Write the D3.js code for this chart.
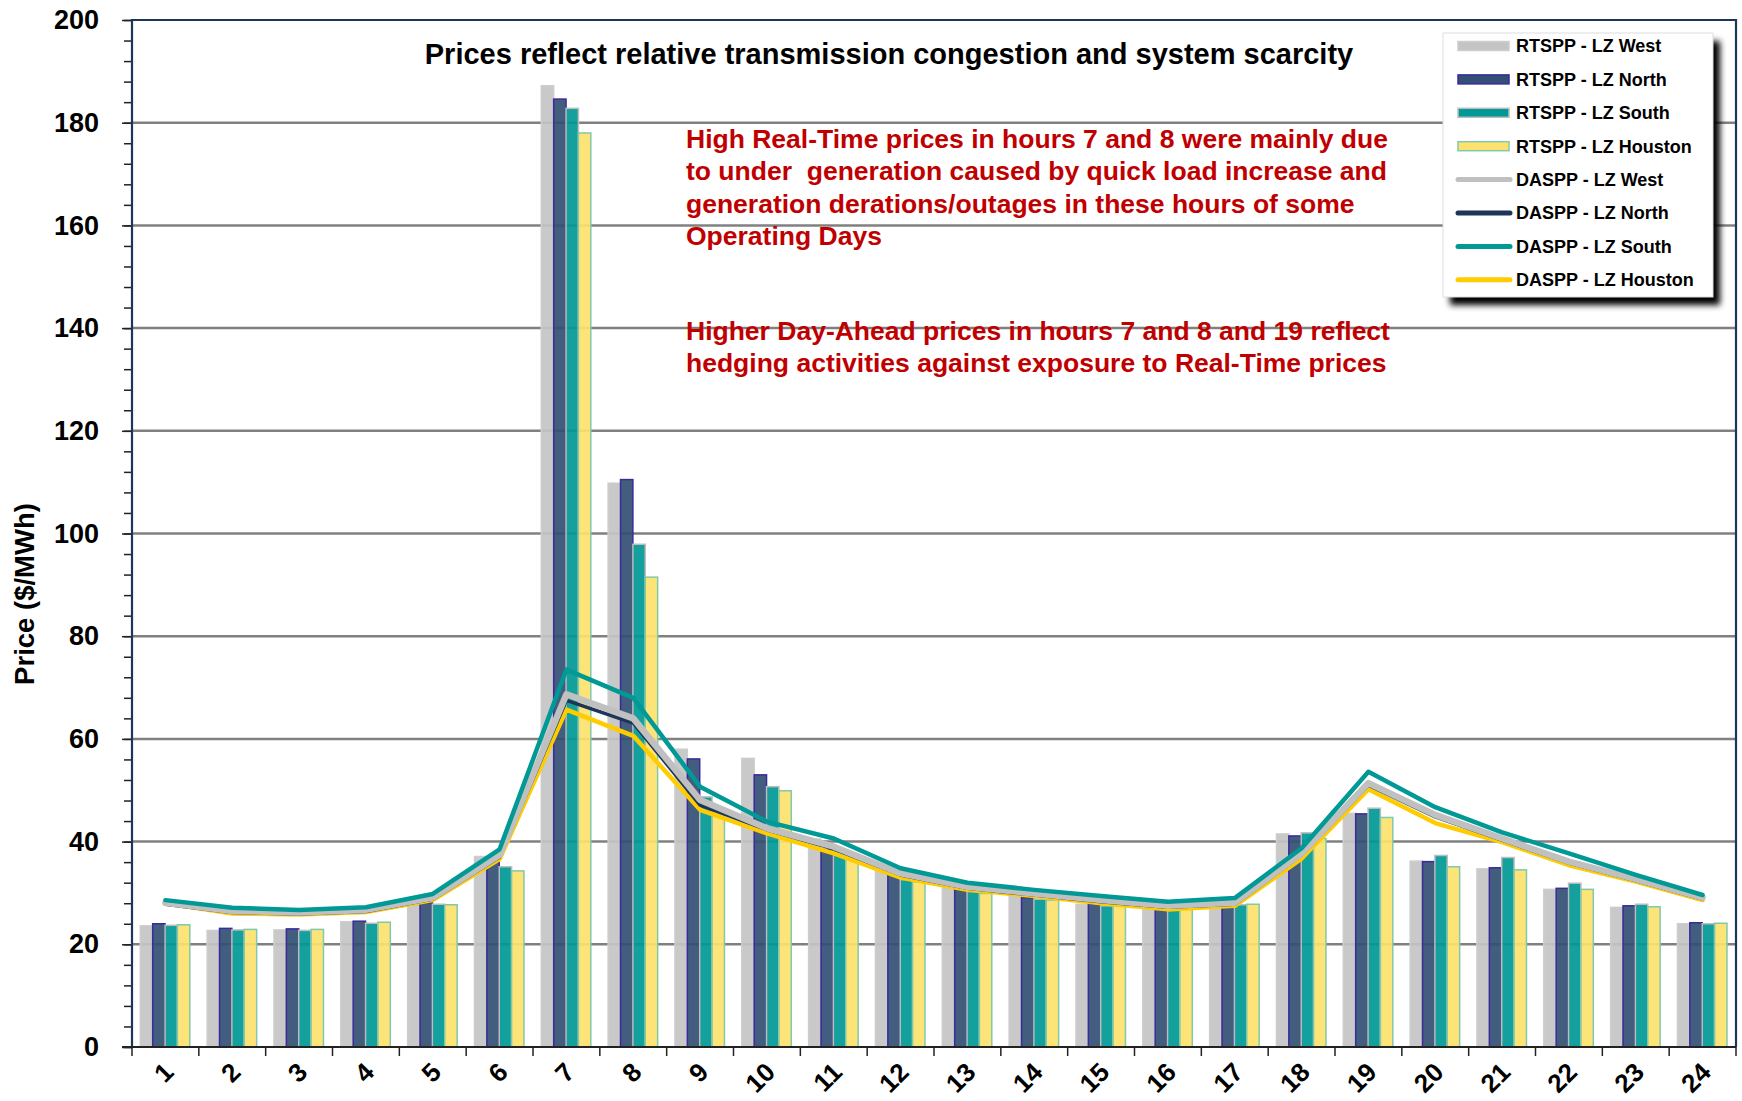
<!DOCTYPE html>
<html>
<head>
<meta charset="UTF-8">
<title>RTSPP vs DASPP by hour</title>
<style>
  body { margin: 0; background: #fff; }
  svg { display: block; font-family: Arial, "Liberation Sans", sans-serif; }
  .ylab, .xlab { font-weight: bold; font-size: 27px; fill: #000; }
  .xlab { font-size: 26px; }
  .note { font-weight: bold; font-size: 26.5px; fill: #c00000; }
  .legtxt { font-weight: bold; font-size: 18px; fill: #000; }
</style>
</head>
<body>
<svg></svg>
<script src="https://d3js.org/d3.v7.min.js"></script>
<script>

let width = 1742, height = 1101;

// hours of the operating day
const hours = d3.range(1, 25).map(String);

// Real-Time settlement point prices ($/MWh), bars
const rtWest    = [23.6, 22.7, 22.8, 24.4, 27.8, 37.1, 187.2, 109.8, 58.0, 56.2, 40.5, 34.5, 31.2, 31.2, 27.8, 27.2, 27.2, 41.5, 45.5, 36.2, 34.7, 30.7, 27.2, 24.0];
const rtNorth   = [24.0, 23.1, 23.0, 24.5, 28.1, 36.0, 184.6, 110.5, 56.1, 53.0, 38.5, 33.5, 30.7, 29.1, 27.8, 26.9, 27.2, 41.1, 45.4, 36.1, 34.9, 30.9, 27.5, 24.2];
const rtSouth   = [23.7, 22.8, 22.7, 24.1, 27.8, 35.1, 182.8, 97.9, 48.7, 50.7, 38.5, 32.6, 30.3, 28.8, 27.5, 26.8, 27.7, 41.7, 46.5, 37.3, 36.9, 31.9, 27.8, 24.0];
const rtHouston = [23.8, 22.9, 22.9, 24.3, 27.7, 34.3, 178.0, 91.5, 46.0, 49.9, 37.0, 32.2, 29.9, 28.6, 27.5, 27.0, 27.8, 40.6, 44.7, 35.1, 34.5, 30.7, 27.3, 24.1];

// Day-Ahead settlement point prices ($/MWh), lines
const daWest    = [28.1, 26.5, 26.2, 26.7, 29.1, 37.4, 68.7, 64.0, 48.1, 42.6, 39.0, 33.8, 31.2, 29.9, 28.6, 27.5, 28.1, 37.7, 51.4, 45.2, 40.6, 36.1, 32.7, 29.1];
const daNorth   = [27.8, 26.2, 25.9, 26.4, 28.8, 37.0, 67.5, 63.1, 47.1, 42.3, 38.6, 33.5, 30.9, 29.6, 28.3, 27.2, 27.8, 37.4, 51.0, 44.8, 40.3, 35.8, 32.4, 28.8];
const daSouth   = [28.6, 27.1, 26.7, 27.2, 29.8, 38.5, 73.5, 68.0, 50.7, 43.9, 40.6, 34.8, 32.0, 30.6, 29.4, 28.3, 29.0, 38.7, 53.6, 46.7, 41.8, 37.7, 33.5, 29.6];
const daHouston = [28.0, 26.0, 25.8, 26.3, 28.6, 36.6, 65.7, 60.6, 46.2, 41.6, 37.7, 33.0, 30.6, 29.4, 28.0, 26.8, 27.5, 36.7, 50.2, 43.6, 39.9, 35.4, 32.2, 28.6];

const yTicks = d3.range(0, 201, 20);

const title = "Prices reflect relative transmission congestion and system scarcity";
const note1 = ["High Real-Time prices in hours 7 and 8 were mainly due",
               "to under  generation caused by quick load increase and",
               "generation derations/outages in these hours of some",
               "Operating Days"];
const note2 = ["Higher Day-Ahead prices in hours 7 and 8 and 19 reflect",
               "hedging activities against exposure to Real-Time prices"];

// series styling
const barSeries = [
  {name: "RTSPP - LZ West",    values: rtWest,    fill: "#c4c4c4", stroke: "#cdcdcd"},
  {name: "RTSPP - LZ North",   values: rtNorth,   fill: "#334f73", stroke: "#3b2a9c"},
  {name: "RTSPP - LZ South",   values: rtSouth,   fill: "#009995", stroke: "#bdbdbd"},
  {name: "RTSPP - LZ Houston", values: rtHouston, fill: "#fde26e", stroke: "#80c9aa"}
];
const lineSeries = [
  {name: "DASPP - LZ West",    values: daWest,    color: "#c0c0c0", w: 6.5},
  {name: "DASPP - LZ North",   values: daNorth,   color: "#1c3558", w: 3.5},
  {name: "DASPP - LZ South",   values: daSouth,   color: "#009995", w: 4.5},
  {name: "DASPP - LZ Houston", values: daHouston, color: "#ffcc00", w: 4.5}
];

let svg = d3.select("svg")
  .attr("width", width)
  .attr("height", height);

let plotL = 132, plotR = 1736, plotT = 20, plotB = 1047;

let x = d3.scaleBand().domain(hours).range([plotL, plotR]).padding(0);
let xs = d3.scaleBand().domain(barSeries.map(d => d.name)).range([8.3, 57.8]).padding(0);
let y = d3.scaleLinear().domain([0, 200]).range([plotB, plotT]);

// gridlines
svg.append("g")
  .selectAll("line")
  .data(yTicks.filter(d => d > 0 && d < 200))
  .enter()
  .append("line")
  .attr("x1", plotL).attr("x2", plotR)
  .attr("y1", d => y(d)).attr("y2", d => y(d))
  .attr("stroke", "#808080")
  .attr("stroke-width", 2.5);

// bars
barSeries.forEach(s => {
  svg.append("g")
    .selectAll("rect")
    .data(s.values)
    .enter()
    .append("rect")
    .attr("x", (d, i) => x(hours[i]) + xs(s.name))
    .attr("y", d => y(d))
    .attr("width", xs.bandwidth())
    .attr("height", d => y(0) - y(d))
    .attr("fill", s.fill)
    .attr("fill-opacity", 0.92)
    .attr("stroke", s.stroke)
    .attr("stroke-width", 1.5);
});

// day-ahead lines, drawn so gray covers navy and teal sits on top
let line = d3.line()
  .x((d, i) => x(hours[i]) + x.bandwidth() / 2)
  .y(d => y(d));

[3, 1, 0, 2].forEach(k => {
  let s = lineSeries[k];
  svg.append("path")
    .datum(s.values)
    .attr("d", line)
    .attr("fill", "none")
    .attr("stroke", s.color)
    .attr("stroke-width", s.w)
    .attr("stroke-linejoin", "round")
    .attr("stroke-linecap", "round");
});

// y axis with minor ticks
let yAxis = svg.append("g").attr("transform", `translate(${plotL},0)`);
yAxis.append("g")
  .call(d3.axisLeft(y).tickValues(d3.range(0, 201, 4)).tickSize(8).tickFormat(""))
  .call(g => g.select(".domain").remove())
  .selectAll("line").attr("stroke", "#222").attr("stroke-width", 1.5);
yAxis.append("g")
  .call(d3.axisLeft(y).tickValues(yTicks).tickSize(10).tickPadding(23))
  .call(g => g.select(".domain").remove())
  .call(g => g.selectAll("line").attr("stroke", "#222").attr("stroke-width", 1.5))
  .call(g => g.selectAll("text").attr("class", "ylab").attr("font-family", null).attr("font-size", null));

// frame: left axis, top and right border
svg.append("path")
  .attr("d", `M${plotL},${plotB}V${plotT}H${plotR}V${plotB}`)
  .attr("fill", "none")
  .attr("stroke", "#1c3558")
  .attr("stroke-width", 2.2);

// x axis
let xAxis = svg.append("g").attr("transform", `translate(0,${plotB})`);
xAxis.append("line")
  .attr("x1", plotL - 10).attr("x2", plotR)
  .attr("stroke", "#222").attr("stroke-width", 2);
xAxis.selectAll(".xt")
  .data(hours.concat(["end"]))
  .enter()
  .append("line")
  .attr("x1", (d, i) => plotL + i * x.step())
  .attr("x2", (d, i) => plotL + i * x.step())
  .attr("y1", 0).attr("y2", 9)
  .attr("stroke", "#222").attr("stroke-width", 1.5);
xAxis.selectAll("text")
  .data(hours)
  .enter()
  .append("text")
  .attr("class", "xlab")
  .attr("text-anchor", "end")
  .attr("transform", d => `translate(${x(d) + x.bandwidth() / 2 - 3},${14}) rotate(-45)`)
  .attr("dy", "0.7em")
  .text(d => d);

// y axis title
svg.append("text")
  .attr("transform", "translate(34,594) rotate(-90)")
  .attr("text-anchor", "middle")
  .attr("font-weight", "bold")
  .attr("font-size", 27.5)
  .text("Price ($/MWh)");

// chart title
svg.append("text")
  .attr("x", 889).attr("y", 64)
  .attr("text-anchor", "middle")
  .attr("font-weight", "bold")
  .attr("font-size", 29)
  .text(title);

// annotations
svg.append("g").selectAll("text")
  .data(note1)
  .enter()
  .append("text")
  .attr("class", "note")
  .attr("x", 686)
  .attr("y", (d, i) => 148 + i * 32.3)
  .style("white-space", "pre")
  .text(d => d);
svg.append("g").selectAll("text")
  .data(note2)
  .enter()
  .append("text")
  .attr("class", "note")
  .attr("x", 686)
  .attr("y", (d, i) => 340 + i * 32.3)
  .text(d => d);

// legend with drop shadow
let defs = svg.append("defs");
let f = defs.append("filter").attr("id", "shadow").attr("x", "-10%").attr("y", "-10%").attr("width", "130%").attr("height", "130%");
f.append("feGaussianBlur").attr("stdDeviation", 3);

let lx = 1443, ly = 33, lw = 270, lh = 264;
svg.append("rect")
  .attr("x", lx + 7).attr("y", ly + 8)
  .attr("width", lw).attr("height", lh)
  .attr("fill", "#000")
  .attr("filter", "url(#shadow)");
svg.append("rect")
  .attr("x", lx).attr("y", ly)
  .attr("width", lw).attr("height", lh)
  .attr("fill", "#fff")
  .attr("stroke", "#ddd");

let legItems = barSeries.map(d => ({name: d.name, kind: "bar", s: d}))
  .concat(lineSeries.map(d => ({name: d.name, kind: "line", s: d})));

let leg = svg.append("g")
  .selectAll("g")
  .data(legItems)
  .enter()
  .append("g")
  .attr("transform", (d, i) => `translate(${lx}, ${ly + 13 + i * 33.4})`);

leg.filter(d => d.kind == "bar")
  .append("rect")
  .attr("x", 15).attr("y", -4.5)
  .attr("width", 51).attr("height", 9)
  .attr("fill", d => d.s.fill)
  .attr("stroke", d => d.s.stroke)
  .attr("stroke-width", 1.5);
leg.filter(d => d.kind == "line")
  .append("line")
  .attr("x1", 15).attr("x2", 67)
  .attr("stroke", d => d.s.color)
  .attr("stroke-width", 5)
  .attr("stroke-linecap", "round");
leg.append("text")
  .attr("class", "legtxt")
  .attr("x", 73)
  .attr("dy", "0.36em")
  .text(d => d.name);

</script>
</body>
</html>
